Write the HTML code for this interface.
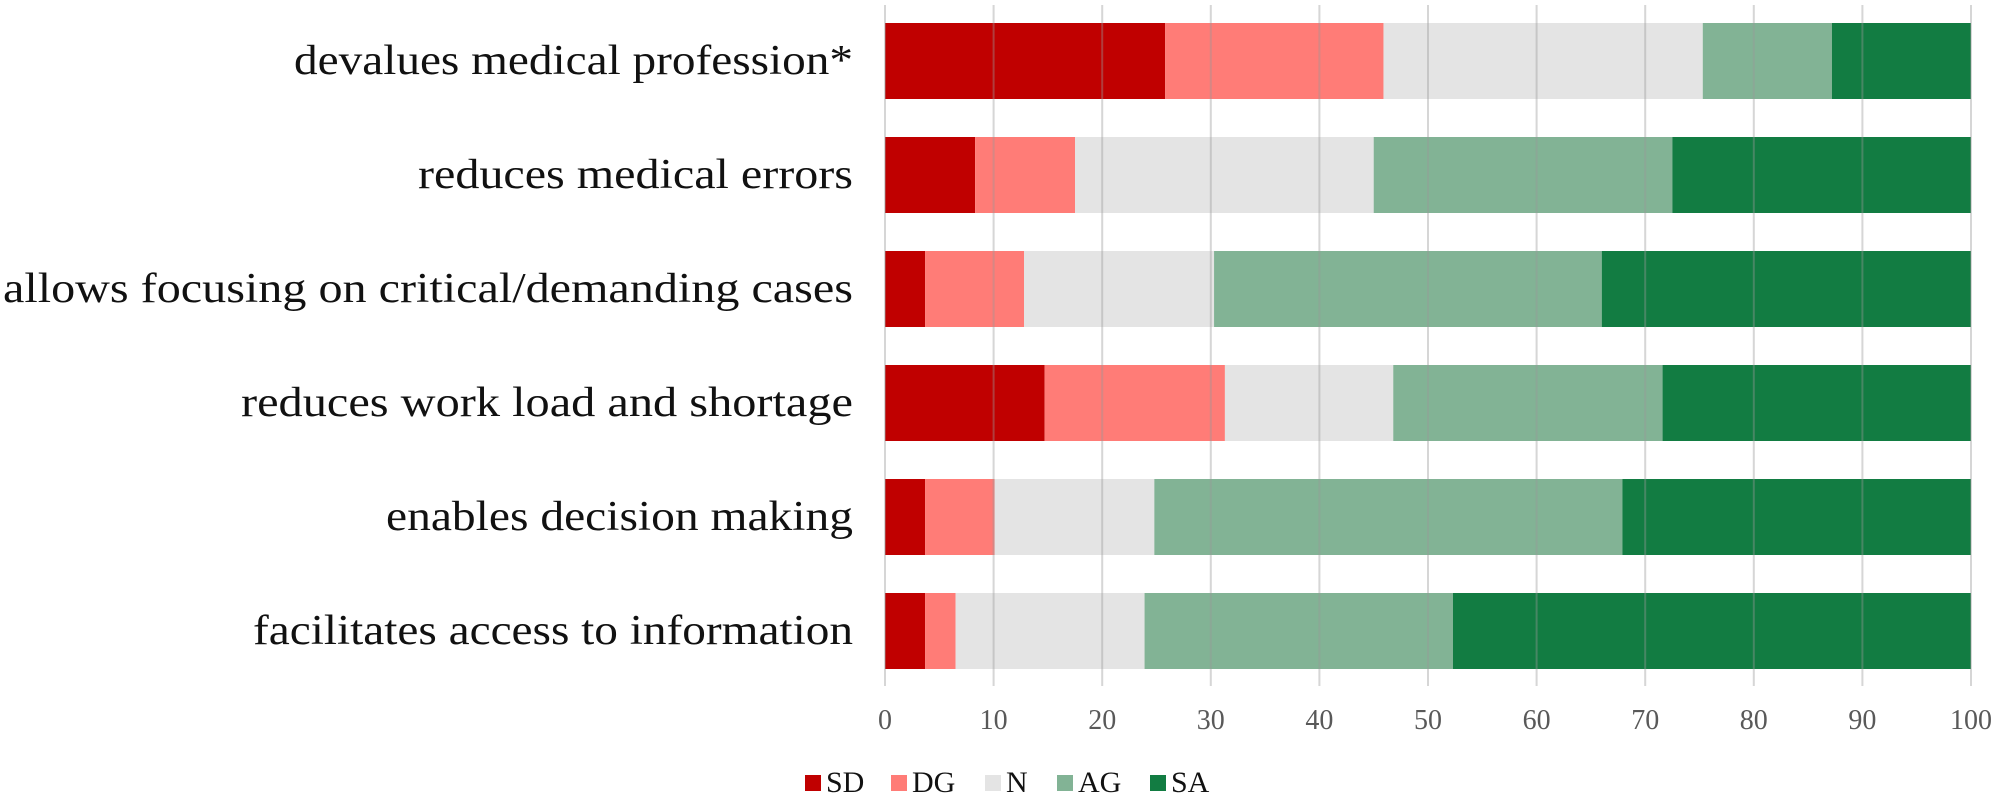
<!DOCTYPE html>
<html><head><meta charset="utf-8"><style>body{margin:0;background:#fff}svg{display:block}</style></head>
<body>
<svg id="chart" width="2000" height="798" xmlns="http://www.w3.org/2000/svg" font-family="'Liberation Serif', serif"></svg>
<script>
const categories=["devalues medical profession*","reduces medical errors","allows focusing on critical/demanding cases","reduces work load and shortage","enables decision making","facilitates access to information"];
const seriesNames=["SD","DG","N","AG","SA"];
const sdValues=[25.8,8.3,3.7,14.7,3.7,3.7];
const dgValues=[20.1,9.2,9.1,16.6,6.4,2.8];
const nValues=[29.4,27.5,17.5,15.5,14.7,17.4];
const agValues=[11.9,27.5,35.7,24.8,43.1,28.4];
const saValues=[12.8,27.5,34.0,28.4,32.1,47.7];
const tickLabels=[0,10,20,30,40,50,60,70,80,90,100];
const labelWidths=[559,435,850,612,467,600];
const colors=["#c00000","#ff7c77","#e4e4e4","#82b395","#127c42"];
const svg=document.getElementById('chart');const NS="http://www.w3.org/2000/svg";
const x=v=>885+v*(1971-885)/100;
const rowY=i=>23+i*114;const barH=76;
function mk(t,a){const e=document.createElementNS(NS,t);for(const k in a)e.setAttribute(k,a[k]);svg.appendChild(e);return e;}
const series=[sdValues,dgValues,nValues,agValues,saValues];
categories.forEach((c,i)=>{let acc=0;
 series.forEach((s,j)=>{const r=mk('rect',{x:x(acc),y:rowY(i),width:x(acc+s[i])-x(acc),height:barH,fill:colors[j]});
 
 acc+=s[i];});
 const t=mk('text',{x:853,y:rowY(i)+barH/2+13,'text-anchor':'end','font-size':42,fill:'#111',textLength:labelWidths[i],lengthAdjust:'spacingAndGlyphs'});
 t.textContent=c;
 
 
});
tickLabels.forEach(v=>{const g=mk('line',{x1:x(v),x2:x(v),y1:5,y2:686,stroke:'#999','stroke-opacity':0.4,'stroke-width':2});
 
 
 const t=mk('text',{x:x(v),y:729,'text-anchor':'middle','font-size':28,fill:'#595959'});t.textContent=v;
 
 });
const legX=[805,891,985,1057,1150];
seriesNames.forEach((n,j)=>{const r=mk('rect',{x:legX[j],y:775,width:16,height:16,fill:colors[j]});
 
 
 const t=mk('text',{x:legX[j]+21,y:792,'font-size':30,fill:'#111'});t.textContent=n;
 
 });
</script>
</body></html>
